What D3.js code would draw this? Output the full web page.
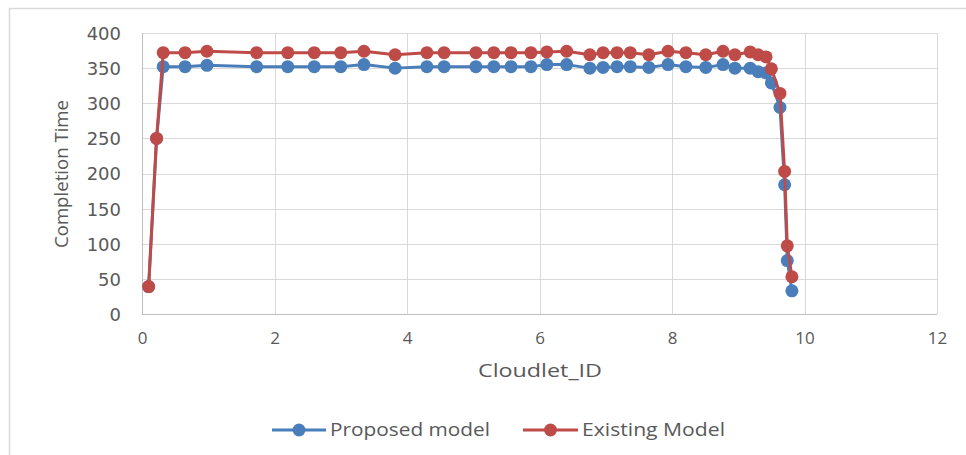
<!DOCTYPE html>
<html>
<head>
<meta charset="utf-8">
<script src="https://cdn.jsdelivr.net/npm/d3@7"></script>
<style>
  html, body { margin: 0; padding: 0; background: #fff; }
  svg { display: block; }
  text { font-family: "Open Sans", "DejaVu Sans", sans-serif; fill: #595959; }
</style>
</head>
<body>
<svg id="chart" width="966" height="455"></svg>
<script>
const cloudletIds = [0.1, 0.22, 0.32, 0.65, 0.98, 1.73, 2.2, 2.6, 3.0, 3.35, 3.82, 4.3, 4.56, 5.04, 5.31, 5.57, 5.87, 6.11, 6.41, 6.76, 6.96, 7.17, 7.37, 7.65, 7.94, 8.21, 8.51, 8.77, 8.95, 9.18, 9.30, 9.42, 9.50, 9.63, 9.70, 9.74, 9.81];
const proposedModel = [39, 250, 352, 352, 354, 352, 352, 352, 352, 355, 350, 352, 352, 352, 352, 352, 352, 355, 355, 350, 351, 352, 352, 351, 355, 352, 351, 355, 350, 350, 345, 343, 329, 294, 184, 76, 33];
const existingModel = [39, 250, 372, 372, 374, 372, 372, 372, 372, 374, 369, 372, 372, 372, 372, 372, 372, 373, 374, 369, 372, 372, 372, 369, 374, 372, 369, 374, 369, 373, 369, 366, 349, 314, 203, 97, 53];
const seriesNames = ["Proposed model", "Existing Model"];
const seriesColors = ["#4A7EBB", "#BE4B48"];
const xTicks = [0, 2, 4, 6, 8, 10, 12];
const yTicks = [0, 50, 100, 150, 200, 250, 300, 350, 400];

const svg = d3.select("#chart");
const m = { left: 142, right: 937, top: 33, bottom: 314 };

// outer chart border
svg.append("rect").attr("x", 9.5).attr("y", 8.5).attr("width", 970).attr("height", 470)
  .attr("fill", "#fff").attr("stroke", "#D9D9D9").attr("stroke-width", 1.5);

const x = d3.scaleLinear().domain([0, 12]).range([m.left, m.right]);
const y = d3.scaleLinear().domain([0, 400]).range([m.bottom, m.top]);

// gridlines
const g = svg.append("g");
g.selectAll(".hg").data(yTicks).join("line")
  .attr("x1", m.left).attr("x2", m.right)
  .attr("y1", d => Math.round(y(d)) + 0.5).attr("y2", d => Math.round(y(d)) + 0.5)
  .attr("stroke", d => d === 0 ? "#BFBFBF" : "#D9D9D9").attr("stroke-width", 1);
g.selectAll(".vg").data(xTicks).join("line")
  .attr("y1", m.top).attr("y2", m.bottom)
  .attr("x1", d => Math.round(x(d)) + 0.5).attr("x2", d => Math.round(x(d)) + 0.5)
  .attr("stroke", d => d === 0 ? "#BFBFBF" : "#D9D9D9").attr("stroke-width", 1);

// axes (labels only)
const xAxis = d3.axisBottom(x).tickValues(xTicks).tickSize(0).tickPadding(0).tickFormat(d3.format("d"));
const xa = svg.append("g").attr("transform", `translate(0,${m.bottom})`).call(xAxis);
xa.select(".domain").remove();
xa.selectAll("text").attr("y", 30).attr("dy", 0).style("font-size", "17px").attr("fill", "#595959")
  .style("font-family", "'Open Sans', sans-serif");

const yAxis = d3.axisLeft(y).tickValues(yTicks).tickSize(0).tickPadding(0);
const ya = svg.append("g").attr("transform", `translate(121,0)`).call(yAxis);
ya.select(".domain").remove();
ya.selectAll("text").attr("x", 0).attr("dy", "0.36em").style("font-size", "18px").attr("fill", "#595959")
  .style("font-family", "'DejaVu Sans', sans-serif");

// axis titles
svg.append("text").attr("x", 540).attr("y", 377).attr("text-anchor", "middle")
  .style("font-size", "19px").attr("textLength", 124).attr("lengthAdjust", "spacingAndGlyphs")
  .text("Cloudlet_ID");
svg.append("text").attr("transform", "translate(68,174) rotate(-90)").attr("text-anchor", "middle")
  .style("font-size", "19px").attr("textLength", 148).attr("lengthAdjust", "spacingAndGlyphs")
  .text("Completion Time");

// series
const series = [proposedModel, existingModel];
const line = d3.line().x((d, i) => x(cloudletIds[i])).y(d => y(d));
series.forEach((vals, si) => {
  const sg = svg.append("g");
  sg.append("path").datum(vals).attr("d", line).attr("fill", "none")
    .attr("stroke", seriesColors[si]).attr("stroke-width", 3).attr("stroke-linejoin", "round");
  sg.selectAll("circle").data(vals).join("circle")
    .attr("cx", (d, i) => x(cloudletIds[i])).attr("cy", d => y(d))
    .attr("r", 6.5).attr("fill", seriesColors[si]);
});

// legend
const legend = [
  { lx1: 272, lx2: 326, tx: 330, tw: 160 },
  { lx1: 523, lx2: 578, tx: 582, tw: 143 }
];
legend.forEach((L, i) => {
  const lg = svg.append("g");
  lg.append("line").attr("x1", L.lx1).attr("x2", L.lx2).attr("y1", 430).attr("y2", 430)
    .attr("stroke", seriesColors[i]).attr("stroke-width", 3);
  lg.append("circle").attr("cx", (L.lx1 + L.lx2) / 2).attr("cy", 430).attr("r", 6.5).attr("fill", seriesColors[i]);
  lg.append("text").attr("x", L.tx).attr("y", 436).style("font-size", "18px")
    .attr("textLength", L.tw).attr("lengthAdjust", "spacingAndGlyphs").text(seriesNames[i]);
});
</script>
</body>
</html>
